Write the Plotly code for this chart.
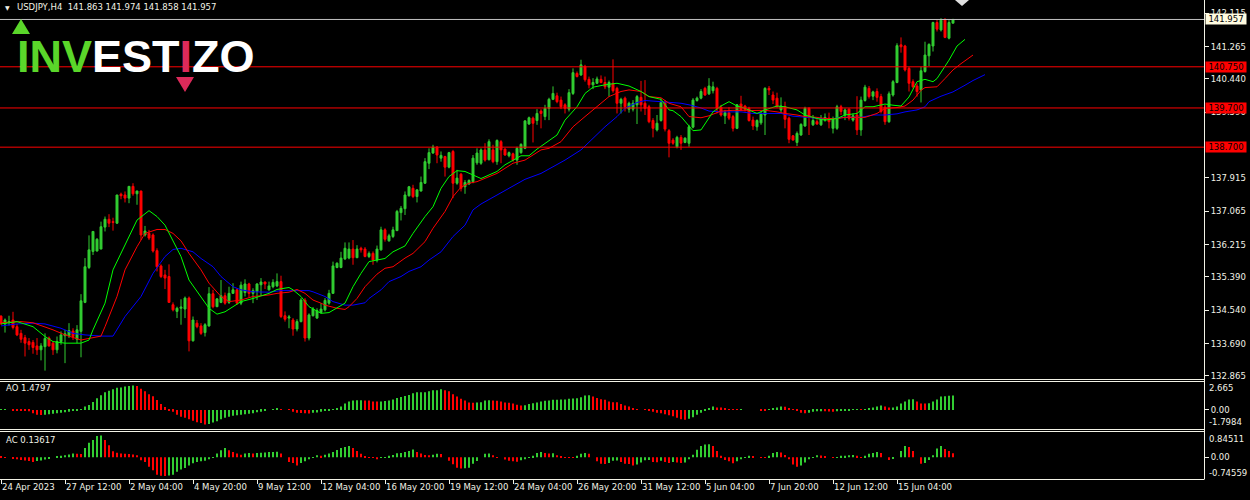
import plotly.graph_objects as go

W, H = 1250, 500

# ---- USDJPY H4 candles (bar index 0..238) ----
opens = [
    134.39, 134.19, 134.24, 134.29, 134.12, 133.95, 133.84, 133.74, 133.72, 133.63,
    133.53, 133.61, 133.83, 133.70, 133.53, 133.74, 133.89, 133.89, 134.01, 133.80,
    134.00, 134.74, 135.63, 136.04, 136.05, 136.10, 136.66, 136.86, 136.80, 136.76,
    137.50, 137.48, 137.40, 137.70, 137.51, 137.58, 136.46, 136.50, 136.46, 136.06,
    135.67, 135.44, 135.40, 134.68, 134.51, 134.59, 134.57, 134.85, 133.76, 134.21,
    134.14, 133.97, 134.14, 134.96, 134.63, 134.74, 134.91, 134.74, 134.97, 135.06,
    134.72, 134.99, 135.21, 134.97, 135.02, 135.19, 135.26, 135.06, 135.14, 135.16,
    135.27, 134.40, 134.34, 134.29, 134.06, 134.25, 134.80, 133.83, 134.40, 134.34,
    134.48, 134.55, 134.72, 134.97, 135.63, 135.63, 135.85, 135.87, 136.10, 135.88,
    136.12, 136.10, 135.91, 135.99, 135.82, 136.08, 136.59, 136.31, 136.42, 136.57,
    137.03, 137.13, 137.46, 137.65, 137.44, 137.58, 137.78, 138.29, 138.55, 138.70,
    138.42, 138.46, 138.19, 138.59, 137.78, 138.01, 137.69, 137.76, 137.82, 138.30,
    138.29, 138.63, 138.38, 138.63, 138.33, 138.84, 138.65, 138.48, 138.53, 138.37,
    138.56, 138.67, 139.29, 139.44, 139.38, 139.62, 139.48, 139.69, 139.92, 140.01,
    139.90, 139.78, 139.67, 140.07, 140.58, 140.54, 140.76, 140.43, 140.29, 140.33,
    140.43, 140.35, 140.23, 140.33, 140.20, 139.82, 139.95, 139.67, 139.67, 139.78,
    139.97, 139.82, 139.73, 139.38, 139.14, 139.38, 139.84, 139.12, 138.88, 138.71,
    138.95, 138.82, 138.80, 139.21, 139.89, 139.95, 140.20, 140.06, 140.14, 140.20,
    139.72, 139.50, 139.58, 139.48, 139.18, 139.80, 139.75, 139.69, 139.39, 139.22,
    139.32, 139.52, 140.20, 140.03, 139.95, 139.65, 139.73, 139.44, 138.99, 138.82,
    139.01, 139.24, 139.69, 139.27, 139.35, 139.27, 139.39, 139.44, 139.18, 139.18,
    139.73, 139.52, 139.67, 139.39, 139.52, 139.14, 139.89, 140.20, 140.00, 140.12,
    139.99, 139.72, 139.35, 140.03, 140.35, 141.31, 141.28, 140.71, 140.37, 140.26,
    140.16, 140.63, 141.03, 141.28, 141.88, 141.69, 141.96, 141.48, 141.863,
]
highs = [
    134.41, 134.33, 134.40, 134.50, 134.19, 134.04, 133.91, 133.83, 133.78, 133.83,
    133.70, 133.95, 133.87, 133.74, 133.87, 134.00, 134.04, 134.21, 134.08, 134.16,
    134.95, 135.87, 136.45, 136.56, 136.38, 136.80, 136.93, 136.99, 136.90, 137.48,
    137.54, 137.57, 137.71, 137.78, 137.59, 137.59, 136.69, 136.59, 136.50, 136.12,
    135.71, 135.57, 135.71, 134.74, 134.63, 134.82, 134.89, 134.89, 134.38, 134.29,
    134.21, 134.21, 135.13, 135.06, 134.85, 135.31, 134.99, 135.14, 135.23, 135.10,
    135.27, 135.33, 135.24, 135.10, 135.23, 135.36, 135.27, 135.27, 135.33, 135.48,
    135.42, 134.51, 134.42, 134.34, 134.31, 134.85, 134.85, 134.46, 134.62, 134.59,
    134.72, 134.85, 135.06, 135.78, 135.76, 136.03, 136.27, 136.27, 136.33, 136.20,
    136.16, 136.15, 136.04, 136.04, 136.19, 136.67, 136.63, 136.49, 136.67, 137.10,
    137.20, 137.57, 137.71, 137.74, 137.63, 137.95, 138.42, 138.67, 138.76, 138.73,
    138.59, 138.48, 138.58, 138.63, 138.12, 138.04, 137.86, 137.88, 138.50, 138.67,
    138.67, 138.80, 138.90, 138.76, 138.90, 138.88, 138.67, 138.59, 138.56, 138.71,
    138.80, 139.39, 139.48, 139.48, 139.67, 139.67, 139.78, 139.96, 140.25, 140.09,
    139.99, 139.82, 140.18, 140.71, 140.63, 140.93, 140.80, 140.50, 140.46, 140.50,
    140.53, 140.50, 140.40, 140.94, 140.24, 139.96, 139.99, 139.86, 139.90, 140.03,
    140.39, 140.41, 139.78, 139.44, 139.52, 139.95, 139.90, 139.16, 138.93, 138.99,
    139.01, 138.95, 139.27, 139.95, 139.99, 140.18, 140.24, 140.46, 140.37, 140.24,
    139.78, 139.65, 139.72, 139.52, 139.80, 140.01, 139.78, 139.73, 139.48, 139.41,
    139.61, 140.23, 140.26, 140.12, 140.09, 139.97, 139.86, 139.48, 139.01, 139.10,
    139.31, 139.73, 139.72, 139.52, 139.41, 139.52, 139.56, 139.58, 139.48, 139.78,
    139.78, 139.69, 139.69, 139.56, 140.00, 139.99, 140.29, 140.26, 140.14, 140.20,
    140.06, 139.78, 140.12, 140.41, 141.35, 141.50, 141.31, 140.75, 140.43, 140.33,
    140.75, 141.39, 141.35, 141.90, 141.96, 141.99, 141.99, 141.94, 141.974,
]
lows = [
    134.16, 133.97, 134.15, 134.05, 133.88, 133.71, 133.36, 133.53, 133.43, 133.40,
    133.26, 133.00, 133.61, 133.40, 133.44, 133.66, 133.19, 133.83, 133.78, 133.70,
    133.34, 134.72, 135.59, 135.95, 136.04, 136.10, 136.55, 136.66, 136.57, 136.74,
    137.37, 137.29, 137.27, 137.46, 137.23, 136.33, 136.42, 136.33, 136.01, 135.53,
    135.36, 135.08, 134.74, 134.51, 134.34, 134.17, 134.34, 133.49, 133.74, 134.08,
    133.91, 133.87, 134.12, 134.59, 134.62, 134.72, 134.68, 134.70, 134.96, 134.68,
    134.67, 134.89, 134.86, 134.72, 134.80, 134.91, 135.08, 135.04, 135.10, 135.13,
    134.34, 134.25, 134.08, 133.89, 134.00, 134.23, 133.74, 133.77, 134.38, 134.32,
    134.46, 134.51, 134.68, 134.96, 135.61, 135.61, 135.82, 135.84, 135.70, 135.87,
    136.01, 135.89, 135.87, 135.70, 135.76, 136.06, 136.29, 136.29, 136.38, 136.56,
    136.83, 136.97, 137.44, 137.40, 137.29, 137.57, 137.76, 138.14, 138.53, 138.29,
    138.33, 137.95, 138.16, 137.40, 137.74, 137.57, 137.51, 137.74, 137.78, 138.25,
    138.25, 138.33, 138.36, 138.29, 138.25, 138.29, 138.48, 138.44, 138.33, 138.25,
    138.53, 138.65, 139.27, 138.82, 139.27, 139.18, 139.39, 139.39, 139.90, 139.82,
    139.67, 139.56, 139.61, 140.03, 140.48, 140.52, 140.37, 140.20, 140.18, 140.31,
    140.33, 140.18, 139.99, 140.09, 139.56, 139.56, 139.61, 139.58, 139.61, 139.29,
    139.61, 139.52, 139.31, 138.95, 139.10, 139.35, 139.10, 138.44, 138.76, 138.67,
    138.63, 138.80, 138.71, 139.18, 139.86, 139.92, 140.01, 140.03, 140.07, 139.56,
    139.48, 139.29, 139.39, 139.10, 139.16, 139.63, 139.61, 139.35, 139.14, 139.12,
    139.27, 139.01, 140.03, 139.80, 139.72, 139.56, 139.18, 138.80, 138.87, 138.73,
    138.99, 139.22, 139.01, 139.24, 139.27, 139.24, 139.35, 139.18, 139.05, 139.14,
    139.52, 139.39, 139.38, 139.35, 139.01, 138.99, 139.86, 139.94, 139.90, 139.86,
    139.56, 139.27, 139.32, 139.99, 140.33, 141.11, 140.63, 140.12, 140.20, 139.99,
    139.84, 140.60, 140.77, 141.14, 141.65, 141.65, 141.48, 141.45, 141.858,
]
closes = [
    134.20, 134.29, 134.25, 134.10, 133.91, 133.80, 133.70, 133.66, 133.59, 133.53,
    133.63, 133.82, 133.63, 133.53, 133.74, 133.91, 133.94, 134.02, 133.87, 134.04,
    134.78, 135.65, 136.08, 136.55, 136.35, 136.67, 136.86, 136.76, 136.78, 137.48,
    137.46, 137.40, 137.70, 137.51, 137.58, 136.46, 136.56, 136.38, 136.05, 135.65,
    135.40, 135.36, 134.74, 134.55, 134.59, 134.62, 134.85, 133.76, 134.29, 134.12,
    133.95, 134.17, 134.96, 134.63, 134.83, 134.91, 134.72, 134.97, 135.06, 134.72,
    135.18, 135.21, 134.97, 135.04, 135.21, 135.26, 135.21, 135.16, 135.25, 135.27,
    134.38, 134.31, 134.37, 134.06, 134.25, 134.80, 133.83, 134.42, 134.57, 134.53,
    134.57, 134.79, 134.97, 135.67, 135.74, 135.87, 136.12, 136.10, 135.88, 136.10,
    136.08, 135.91, 135.99, 135.82, 136.10, 136.59, 136.35, 136.44, 136.59, 137.06,
    137.14, 137.48, 137.69, 137.44, 137.61, 137.80, 138.33, 138.56, 138.70, 138.50,
    138.49, 138.19, 138.56, 137.78, 137.91, 137.65, 137.80, 137.85, 138.42, 138.55,
    138.63, 138.37, 138.84, 138.33, 138.87, 138.63, 138.50, 138.56, 138.37, 138.67,
    138.77, 139.37, 139.45, 139.31, 139.56, 139.56, 139.69, 139.92, 140.07, 139.86,
    139.73, 139.69, 140.09, 140.60, 140.50, 140.80, 140.42, 140.29, 140.35, 140.44,
    140.35, 140.24, 140.35, 140.14, 139.82, 139.92, 139.73, 139.82, 139.82, 139.99,
    139.78, 139.69, 139.35, 139.18, 139.31, 139.84, 139.16, 138.80, 138.80, 138.95,
    138.80, 138.93, 139.22, 139.90, 139.95, 140.12, 140.03, 140.26, 140.24, 139.69,
    139.52, 139.58, 139.44, 139.18, 139.78, 139.65, 139.65, 139.38, 139.24, 139.38,
    139.56, 140.20, 140.16, 139.90, 139.73, 139.75, 139.41, 138.90, 138.88, 139.05,
    139.28, 139.69, 139.49, 139.38, 139.29, 139.44, 139.46, 139.35, 139.42, 139.73,
    139.61, 139.65, 139.44, 139.50, 139.14, 139.90, 140.23, 139.99, 140.11, 139.97,
    139.61, 139.35, 140.06, 140.37, 141.29, 141.26, 140.67, 140.33, 140.24, 140.12,
    140.65, 141.05, 141.32, 141.88, 141.71, 141.94, 141.50, 141.88, 141.957,
]

# Alligator lines (read at sample bars)
lips_x = [0, 4, 8, 11, 13, 16, 20, 22, 23, 26, 28, 32, 34, 37, 39, 41, 43, 45, 47, 50,
          52, 54, 56, 58, 60, 63, 67, 69, 72, 73, 75, 77, 80, 82, 84, 86, 88, 90, 92, 95,
          96, 98, 101, 103, 106, 108, 110, 112, 114, 116, 118, 120, 124, 126, 130, 132, 134, 136, 139, 141,
          144, 146, 148, 151, 154, 157, 160, 162, 165, 167, 168, 170, 172, 173, 175, 177, 178, 180, 182, 184,
          186, 189, 191, 194, 196, 199, 201, 204, 206, 209, 211, 214, 216, 218, 221, 223, 225, 227, 229, 231,
          233, 234, 237, 239, 241]
lips_y = [134.19, 134.25, 134.12, 133.87, 133.74, 133.70, 133.70, 133.78, 134.04, 134.72,
          135.57, 136.42, 136.84, 137.08, 136.93, 136.71, 136.33, 135.91, 135.31, 134.89,
          134.59, 134.44, 134.50, 134.63, 134.76, 134.84, 134.97, 135.07, 135.12, 135.06,
          134.89, 134.63, 134.46, 134.48, 134.59, 134.72, 135.14, 135.48, 135.78, 135.84,
          135.86, 136.03, 136.18, 136.50, 136.93, 137.18, 137.65, 137.95, 138.10, 138.08,
          137.99, 137.90, 138.08, 138.25, 138.48, 138.48, 138.65, 138.80, 139.01, 139.39,
          139.73, 140.07, 140.23, 140.29, 140.33, 140.26, 140.12, 139.99, 139.92, 139.65,
          139.63, 139.48, 139.22, 139.12, 139.14, 139.45, 139.60, 139.75, 139.86, 139.75,
          139.69, 139.56, 139.65, 139.75, 139.73, 139.65, 139.52, 139.43, 139.39, 139.43,
          139.52, 139.56, 139.73, 139.73, 139.80, 139.77, 139.75, 139.98, 140.37, 140.43,
          140.37, 140.45, 140.92, 141.28, 141.45]
teeth_x = [0, 5, 8, 11, 13, 16, 20, 22, 25, 26, 29, 31, 34, 36, 39, 41, 43, 45, 47, 50,
           52, 55, 57, 60, 63, 67, 69, 72, 74, 76, 78, 80, 81, 84, 86, 87, 89, 91, 94, 96,
           98, 101, 103, 106, 108, 111, 113, 115, 117, 119, 120, 124, 128, 131, 135, 137, 140, 143, 146, 150,
           152, 155, 157, 160, 162, 165, 167, 170, 172, 175, 177, 180, 183, 186, 189, 191, 194, 196, 199, 201,
           204, 206, 209, 211, 214, 216, 219, 221, 224, 226, 228, 230, 231, 234, 236, 238, 240, 243]
teeth_y = [134.22, 134.25, 134.22, 134.12, 134.04, 133.91, 133.78, 133.82, 133.88, 134.12,
           134.89, 135.57, 136.16, 136.50, 136.60, 136.60, 136.50, 136.31, 135.99, 135.57,
           135.23, 134.89, 134.76, 134.80, 134.89, 134.93, 134.97, 135.00, 135.07, 134.97,
           134.80, 134.72, 134.67, 134.59, 134.56, 134.63, 134.84, 135.14, 135.46, 135.61,
           135.65, 135.87, 135.99, 136.29, 136.63, 137.06, 137.44, 137.68, 137.78, 137.82,
           137.86, 138.03, 138.29, 138.37, 138.63, 138.67, 138.84, 139.22, 139.48, 139.82,
           139.99, 140.12, 140.16, 140.12, 139.99, 139.96, 139.82, 139.73, 139.48, 139.45,
           139.50, 139.62, 139.64, 139.63, 139.64, 139.64, 139.60, 139.56, 139.52, 139.48,
           139.46, 139.43, 139.43, 139.46, 139.46, 139.46, 139.56, 139.69, 139.71, 139.75,
           139.90, 140.15, 140.22, 140.24, 140.45, 140.67, 140.83, 141.05]
jaw_x = [0, 4, 8, 11, 15, 18, 21, 25, 28, 31, 35, 38, 41, 43, 45, 48, 50, 53, 55, 58,
         60, 63, 67, 70, 73, 77, 78, 81, 83, 86, 88, 91, 92, 95, 97, 100, 102, 105, 107, 110,
         113, 116, 118, 120, 131, 135, 138, 141, 145, 148, 151, 154, 156, 159, 161, 165, 167, 170, 172, 175,
         177, 180, 185, 188, 191, 195, 198, 201, 205, 208, 211, 215, 218, 221, 224, 226, 229, 231, 232, 235,
         238, 241, 243, 246]
jaw_y = [134.14, 134.19, 134.21, 134.19, 134.08, 133.95, 133.91, 133.88, 133.88, 134.38,
         134.89, 135.48, 135.91, 136.09, 136.12, 136.03, 135.86, 135.65, 135.40, 135.14,
         135.06, 135.01, 135.00, 135.04, 135.04, 135.04, 135.01, 134.89, 134.76, 134.67,
         134.67, 134.73, 134.84, 135.06, 135.27, 135.40, 135.53, 135.65, 135.82, 136.03,
         136.42, 136.71, 137.10, 137.25, 137.88, 138.03, 138.20, 138.37, 138.63, 138.93,
         139.22, 139.48, 139.69, 139.84, 139.89, 139.86, 139.84, 139.82, 139.78, 139.70,
         139.62, 139.60, 139.60, 139.56, 139.56, 139.56, 139.49, 139.46, 139.43, 139.43,
         139.46, 139.46, 139.52, 139.52, 139.55, 139.60, 139.65, 139.73, 139.86, 140.00,
         140.11, 140.28, 140.40, 140.55]

# Awesome Oscillator / Accelerator Oscillator
ao = [
    0.03, 0.035, 0.0, -0.02, -0.03, -0.05, -0.07, -0.15, -0.35, -0.5,
    -0.52, -0.5, -0.45, -0.4, -0.35, -0.3, -0.25, -0.2, -0.1, -0.03,
    0.05, 0.35, 0.5, 0.8, 1.2, 1.5, 1.8, 1.95, 2.1, 2.25,
    2.3, 2.4, 2.45, 2.5, 2.45, 2.15, 1.9, 1.6, 1.4, 1.0,
    0.6, 0.3, -0.05, -0.2, -0.5, -0.7, -0.8, -0.95, -1.1, -1.25,
    -1.35, -1.5, -1.45, -1.3, -1.15, -0.95, -0.8, -0.7, -0.6, -0.55,
    -0.5, -0.45, -0.4, -0.35, -0.25, -0.2, -0.1, 0.0, 0.03, 0.1,
    0.05, 0.0, -0.01, -0.2, -0.3, -0.33, -0.35, -0.36, -0.3, -0.27,
    -0.2, -0.08, -0.02, 0.01, 0.17, 0.34, 0.66, 0.86, 0.97, 0.98,
    0.99, 0.97, 0.96, 0.86, 0.85, 0.87, 0.92, 0.97, 1.07, 1.21,
    1.31, 1.41, 1.52, 1.69, 1.79, 1.80, 1.81, 1.90, 2.0, 2.01,
    2.1, 2.0, 1.9, 1.59, 1.38, 1.14, 0.97, 0.76, 0.72, 0.76,
    0.78, 0.97, 0.98, 0.97, 0.93, 0.86, 0.76, 0.74, 0.66, 0.52,
    0.45, 0.47, 0.59, 0.69, 0.76, 0.86, 0.93, 0.97, 1.03, 1.04,
    1.05, 1.06, 1.14, 1.17, 1.18, 1.28, 1.48, 1.49, 1.38, 1.21,
    1.10, 1.03, 0.86, 0.79, 0.78, 0.59, 0.45, 0.34, 0.10, 0.02,
    0.0, -0.01, -0.05, -0.2, -0.3, -0.35, -0.45, -0.55, -0.65, -0.8,
    -0.95, -1.0, -0.9, -0.75, -0.5, -0.3, -0.1, 0.1, 0.35, 0.25,
    0.24, 0.15, 0.05, 0.02, 0.01, 0.03, 0.0, 0.0, 0.0, 0.0,
    -0.02, -0.03, 0.02, 0.15, 0.24, 0.34, 0.33, 0.10, -0.01, -0.07,
    -0.3, -0.35, -0.28, -0.18, -0.14, -0.13, -0.14, -0.17, -0.18, -0.14,
    -0.07, -0.03, -0.02, 0.01, 0.02, 0.01, 0.03, 0.1, 0.24, 0.34,
    0.45, 0.34, 0.24, 0.25, 0.34, 0.66, 0.86, 1.07, 1.08, 0.86,
    0.66, 0.65, 0.67, 0.86, 1.07, 1.38, 1.39, 1.45, 1.4797,
]
ac = [
    0.02, 0.01, 0.0, -0.05, -0.07, -0.09, -0.11, -0.13, -0.16, -0.13,
    -0.11, -0.08, -0.03, 0.0, 0.02, 0.05, 0.07, 0.10, 0.13, 0.12,
    0.11, 0.32, 0.5, 0.6, 0.74, 0.75, 0.6, 0.42, 0.21, 0.16,
    0.13, 0.12, 0.11, 0.10, 0.07, -0.1, -0.16, -0.33, -0.45, -0.6,
    -0.64, -0.65, -0.63, -0.6, -0.5, -0.42, -0.37, -0.28, -0.21, -0.16,
    -0.14, -0.12, -0.07, -0.02, 0.13, 0.24, 0.32, 0.24, 0.18, 0.13,
    0.09, 0.13, 0.15, 0.13, 0.15, 0.16, 0.17, 0.18, 0.185, 0.19,
    0.13, 0.0, -0.16, -0.2, -0.28, -0.2, -0.14, -0.07, -0.02, 0.07,
    0.05, 0.09, 0.13, 0.18, 0.25, 0.32, 0.36, 0.39, 0.32, 0.22,
    0.12, 0.02, 0.01, -0.02, -0.07, -0.01, 0.01, 0.05, 0.08, 0.14,
    0.15, 0.18, 0.22, 0.27, 0.18, 0.13, 0.08, 0.07, 0.09, 0.12,
    0.11, 0.0, -0.12, -0.24, -0.36, -0.39, -0.38, -0.36, -0.22, -0.13,
    0.0, 0.12, 0.13, 0.07, 0.01, 0.0, -0.08, -0.12, -0.14, -0.15,
    -0.1, -0.07, -0.01, 0.05, 0.15, 0.18, 0.15, 0.13, 0.14, 0.07,
    0.03, 0.01, 0.005, 0.003, 0.05, 0.12, 0.15, 0.12, 0.0, -0.14,
    -0.22, -0.23, -0.2, -0.12, -0.11, -0.16, -0.22, -0.23, -0.28, -0.25,
    -0.18, -0.1, -0.09, -0.16, -0.17, -0.12, -0.16, -0.2, -0.16, -0.18,
    -0.2, -0.18, -0.07, 0.09, 0.26, 0.39, 0.44, 0.45, 0.39, 0.22,
    0.05, -0.09, -0.14, -0.21, -0.14, -0.07, -0.02, 0.05, 0.04, 0.0,
    -0.005, -0.01, 0.05, 0.15, 0.18, 0.17, 0.08, -0.07, -0.25, -0.33,
    -0.28, -0.18, -0.07, -0.02, 0.07, 0.06, 0.03, 0.0, -0.005, 0.01,
    0.05, 0.055, 0.07, 0.075, 0.05, 0.01, 0.05, 0.12, 0.15, 0.18,
    0.15, 0.0, -0.09, -0.05, 0.0, 0.22, 0.39, 0.36, 0.22, 0.0,
    -0.22, -0.2, -0.09, 0.07, 0.3, 0.39, 0.29, 0.22, 0.13617,
]

time_labels = ["24 Apr 2023", "27 Apr 12:00", "2 May 04:00", "4 May 20:00", "9 May 12:00",
               "12 May 04:00", "16 May 20:00", "19 May 12:00", "24 May 04:00", "26 May 20:00",
               "31 May 12:00", "5 Jun 04:00", "7 Jun 20:00", "12 Jun 12:00", "15 Jun 04:00"]
time_label_bars = [16 * k for k in range(len(time_labels))]
# 138.740 sits under the 138.700 level tag in the terminal, so it is left out
price_ticks = [142.115, 141.265, 140.440, 139.590, 137.915, 137.065,
               136.215, 135.390, 134.540, 133.690, 132.865]
levels = [140.750, 139.700, 138.700]

n = len(closes)
assert len(opens) == len(highs) == len(lows) == n == len(ao) == len(ac)
bars = list(range(n))

GREEN = "#32cd32"
RED = "#ff0000"
FG = "#f2f2e6"
FONT = "DejaVu Sans"


def px(x):
    return x / W


def py(y):
    return 1 - y / H


def hist_colors(vals, first):
    cols = [first]
    for a, b in zip(vals[:-1], vals[1:]):
        cols.append(GREEN if b > a else RED)
    return cols


fig = go.Figure()
fig.add_trace(go.Candlestick(
    x=bars, open=opens, high=highs, low=lows, close=closes,
    increasing=dict(line=dict(color=GREEN, width=1), fillcolor=GREEN),
    decreasing=dict(line=dict(color=RED, width=1), fillcolor=RED),
    hoverinfo="skip", xaxis="x", yaxis="y"))
for lx, ly, col in [(jaw_x, jaw_y, "#0000ff"), (teeth_x, teeth_y, "#ff0000"),
                    (lips_x, lips_y, "#00ff00")]:
    fig.add_trace(go.Scatter(x=lx, y=ly, mode="lines", line=dict(color=col, width=1),
                             hoverinfo="skip", xaxis="x", yaxis="y"))
fig.add_trace(go.Bar(x=bars, y=ao, width=0.3, marker=dict(color=hist_colors(ao, GREEN), line=dict(width=0)),
                     xaxis="x", yaxis="y2", hoverinfo="skip"))
fig.add_trace(go.Bar(x=bars, y=ac, width=0.3, marker=dict(color=hist_colors(ac, RED), line=dict(width=0)),
                     xaxis="x", yaxis="y3", hoverinfo="skip"))

axis_font = dict(family=FONT, size=8.5, color=FG)
common_y = dict(side="right", anchor="x", showgrid=False, zeroline=False, ticks="outside",
                ticklen=4, tickcolor=FG, tickfont=axis_font, showline=False, fixedrange=True,
                automargin=False)

shapes = []
# level lines and bid line
for lv in levels:
    shapes.append(dict(type="line", xref="paper", yref="y", x0=0, x1=px(1204), y0=lv, y1=lv,
                       line=dict(color=RED, width=1)))
shapes.append(dict(type="line", xref="paper", yref="y", x0=0, x1=px(1204), y0=closes[-1], y1=closes[-1],
                   line=dict(color="#c0c0c0", width=1)))
# pane frames (half-pixel offsets keep the 1px lines crisp)
for yy in [379.5, 381.5, 429.5, 431.5]:
    shapes.append(dict(type="line", xref="paper", yref="paper", x0=0, x1=px(1204.5), y0=py(yy), y1=py(yy),
                       line=dict(color=FG, width=1)))
shapes.append(dict(type="line", xref="paper", yref="paper", x0=px(1204.5), x1=px(1204.5), y0=py(0),
                   y1=py(479.5), line=dict(color=FG, width=1)))
# logo arrows
shapes.append(dict(type="path", xref="paper", yref="paper", line=dict(width=0), fillcolor="#5ad62a",
                   path=f"M {px(12)},{py(34)} L {px(30)},{py(34)} L {px(21)},{py(19)} Z"))
shapes.append(dict(type="path", xref="paper", yref="paper", line=dict(width=0), fillcolor="#dc2a5a",
                   path=f"M {px(176)},{py(77)} L {px(194)},{py(77)} L {px(185)},{py(92)} Z"))
# chart shift marker
shapes.append(dict(type="path", xref="paper", yref="paper", line=dict(width=0), fillcolor="#e0e0e0",
                   path=f"M {px(955)},{py(0)} L {px(969)},{py(0)} L {px(962)},{py(6)} Z"))

annotations = []
for lv in levels:
    annotations.append(dict(xref="paper", yref="y", x=px(1205), y=lv, xanchor="left", yanchor="middle",
                            text=f"{lv:.3f}", showarrow=False, bgcolor=RED, width=40, height=10,
                            borderpad=0, font=dict(family=FONT, size=8.5, color="#000000")))
annotations.append(dict(xref="paper", yref="y", x=px(1205), y=closes[-1], xanchor="left", yanchor="middle",
                        text=f"{closes[-1]:.3f}", showarrow=False, bgcolor="#fffbe0", width=40, height=10,
                        borderpad=0, font=dict(family=FONT, size=8.5, color="#000000")))
annotations.append(dict(xref="paper", yref="paper", x=px(3), y=py(7), xanchor="left", yanchor="middle",
                        text="▼", showarrow=False, font=dict(family=FONT, size=6, color=FG)))
annotations.append(dict(xref="paper", yref="paper", x=px(15), y=py(7), xanchor="left", yanchor="middle",
                        text=f"USDJPY,H4  {opens[-1]:.3f} {highs[-1]:.3f} {lows[-1]:.3f} {closes[-1]:.3f}",
                        showarrow=False, font=dict(family=FONT, size=8.5, color=FG)))
annotations.append(dict(xref="paper", yref="paper", x=px(15), y=py(57), xanchor="left", yanchor="middle",
                        text="<b><span style='color:#5ad62a'>INV</span>EST"
                             "<span style='color:#dc2a5a'>I</span>ZO</b>",
                        showarrow=False, font=dict(family="Liberation Sans", size=45, color="#ffffff")))
annotations.append(dict(xref="paper", yref="paper", x=px(4), y=py(388), xanchor="left", yanchor="middle",
                        text=f"AO {ao[-1]:.4f}", showarrow=False, font=dict(family=FONT, size=8.5, color=FG)))
annotations.append(dict(xref="paper", yref="paper", x=px(4), y=py(440), xanchor="left", yanchor="middle",
                        text=f"AC {ac[-1]:.5f}", showarrow=False, font=dict(family=FONT, size=8.5, color=FG)))
for txt, yy in [("2.665", 388), ("-1.7984", 422), ("0.84511", 439), ("-0.74559", 473)]:
    annotations.append(dict(xref="paper", yref="paper", x=px(1207), y=py(yy), xanchor="left", yanchor="middle",
                            text=txt, showarrow=False, font=dict(family=FONT, size=8.5, color=FG)))

fig.update_layout(
    width=W, height=H, margin=dict(l=0, r=0, t=0, b=0, autoexpand=False),
    paper_bgcolor="#000000", plot_bgcolor="#000000", showlegend=False,
    barmode="overlay", hovermode=False,
    xaxis=dict(domain=[0, px(1204)], range=[-0.25, 300.75], anchor="y3", showgrid=False, zeroline=False,
               tickmode="array", tickvals=time_label_bars, ticktext=time_labels, ticks="outside",
               ticklen=4, tickcolor=FG, tickfont=axis_font, ticklabelposition="outside right",
               tickangle=0, automargin=False,
               showline=True, linecolor=FG, linewidth=1, rangeslider=dict(visible=False), fixedrange=True),
    yaxis=dict(domain=[py(378), 1], range=[142.454 - 378 / 39.2, 142.454], tickmode="array",
               tickvals=price_ticks, ticktext=[f"{v:.3f}" for v in price_ticks], **common_y),
    yaxis2=dict(domain=[py(428), py(382)], range=[-1.85, 2.85], tickmode="array",
                tickvals=[0], ticktext=["0.00"], **common_y),
    yaxis3=dict(domain=[py(479), py(432)], range=[-0.751, 0.875], tickmode="array",
                tickvals=[0], ticktext=["0.00"], **common_y),
    shapes=shapes, annotations=annotations,
)

# the page body keeps the browser's default 8px margin; drop it so the chart sits at 0,0
fig.write_html("out.html", config={"displayModeBar": False},
               post_script="document.body.style.margin='0';document.body.style.background='#000';")
